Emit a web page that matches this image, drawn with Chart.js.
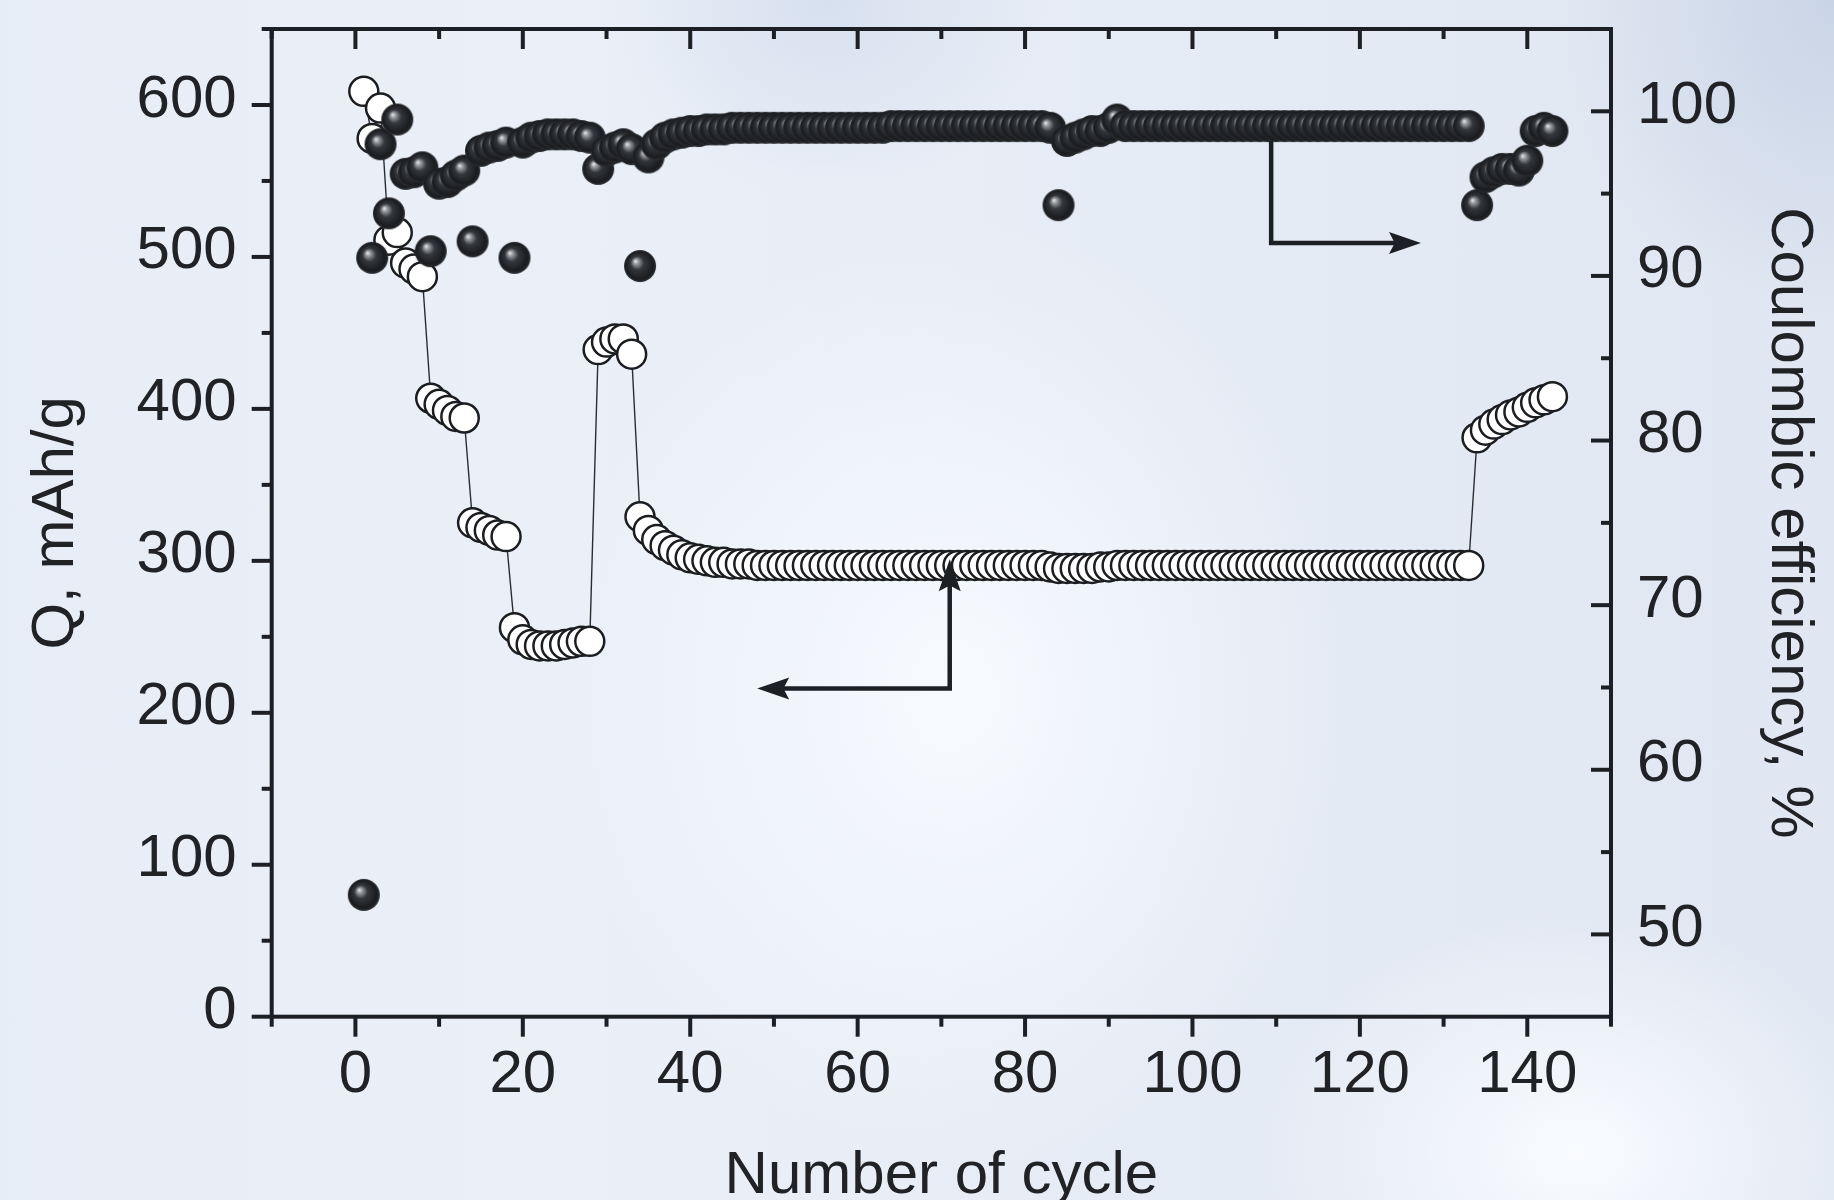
<!DOCTYPE html>
<html>
<head>
<meta charset="utf-8">
<script src="https://cdn.jsdelivr.net/npm/chart.js@4.4.1/dist/chart.umd.min.js"></script>
<style>
  html, body { margin: 0; padding: 0; }
  body {
    width: 1834px; height: 1200px; overflow: hidden;
    background:
      radial-gradient(ellipse 520px 640px at 52% 58%, rgba(248,251,255,0.95), rgba(248,251,255,0) 75%),
      radial-gradient(ellipse 420px 320px at 86% 96%, rgba(250,252,255,0.95), rgba(250,252,255,0) 75%),
      radial-gradient(ellipse 380px 440px at 100% 0%, rgba(200,211,229,0.95), rgba(200,211,229,0) 75%),
      radial-gradient(ellipse 300px 260px at 45% 0%, rgba(212,222,238,0.85), rgba(212,222,238,0) 75%),
      linear-gradient(90deg, #e7edf6 0%, #ebf0f8 30%, #e6ecf5 60%, #e0e7f2 100%);
  }
  #wrap { position: relative; width: 1834px; height: 1200px; }
</style>
</head>
<body>
<div id="wrap"><canvas id="chart"></canvas></div>
<script>
// cycle number (x)
const cycles = [
  1, 2, 3, 4, 5, 6, 7, 8, 9, 10,
  11, 12, 13, 14, 15, 16, 17, 18, 19, 20,
  21, 22, 23, 24, 25, 26, 27, 28, 29, 30,
  31, 32, 33, 34, 35, 36, 37, 38, 39, 40,
  41, 42, 43, 44, 45, 46, 47, 48, 49, 50,
  51, 52, 53, 54, 55, 56, 57, 58, 59, 60,
  61, 62, 63, 64, 65, 66, 67, 68, 69, 70,
  71, 72, 73, 74, 75, 76, 77, 78, 79, 80,
  81, 82, 83, 84, 85, 86, 87, 88, 89, 90,
  91, 92, 93, 94, 95, 96, 97, 98, 99, 100,
  101, 102, 103, 104, 105, 106, 107, 108, 109, 110,
  111, 112, 113, 114, 115, 116, 117, 118, 119, 120,
  121, 122, 123, 124, 125, 126, 127, 128, 129, 130,
  131, 132, 133, 134, 135, 136, 137, 138, 139, 140,
  141, 142, 143
];

// Q, mAh/g (open circles, left axis)
const capacity = [
  609, 578, 598, 511, 516, 496, 492, 487, 407, 403,
  399, 395, 394, 325, 322, 320, 317, 316, 256, 248,
  245, 244, 244, 244, 245, 246, 247, 247, 439, 444,
  446, 446, 436, 329, 320, 314, 310, 307, 304, 302,
  301, 300, 299, 299, 298, 298, 298, 297, 297, 297,
  297, 297, 297, 297, 297, 297, 297, 297, 297, 297,
  297, 297, 297, 297, 297, 297, 297, 297, 297, 297,
  297, 297, 297, 297, 297, 297, 297, 297, 297, 297,
  297, 297, 296, 295, 295, 295, 295, 295, 296, 296,
  297, 297, 297, 297, 297, 297, 297, 297, 297, 297,
  297, 297, 297, 297, 297, 297, 297, 297, 297, 297,
  297, 297, 297, 297, 297, 297, 297, 297, 297, 297,
  297, 297, 297, 297, 297, 297, 297, 297, 297, 297,
  297, 297, 297, 381, 386, 390, 393, 396, 398, 401,
  404, 406, 408
];

// Coulombic efficiency, % (filled spheres, right axis)
const efficiency = [
  52.4, 91.1, 98.0, 93.8, 99.5, 96.2, 96.3, 96.6, 91.5, 95.6,
  95.7, 96.1, 96.4, 92.1, 97.6, 97.8, 97.9, 98.1, 91.1, 98.1,
  98.4, 98.5, 98.6, 98.6, 98.6, 98.6, 98.5, 98.4, 96.5, 97.6,
  97.8, 98.0, 97.7, 90.6, 97.2, 98.0, 98.4, 98.6, 98.7, 98.8,
  98.8, 98.9, 98.9, 98.9, 99.0, 99.0, 99.0, 99.0, 99.0, 99.0,
  99.0, 99.0, 99.0, 99.0, 99.0, 99.0, 99.0, 99.0, 99.0, 99.0,
  99.0, 99.0, 99.0, 99.1, 99.1, 99.1, 99.1, 99.1, 99.1, 99.1,
  99.1, 99.1, 99.1, 99.1, 99.1, 99.1, 99.1, 99.1, 99.1, 99.1,
  99.1, 99.1, 99.0, 94.3, 98.2, 98.4, 98.6, 98.8, 98.8, 99.0,
  99.5, 99.1, 99.1, 99.1, 99.1, 99.1, 99.1, 99.1, 99.1, 99.1,
  99.1, 99.1, 99.1, 99.1, 99.1, 99.1, 99.1, 99.1, 99.1, 99.1,
  99.1, 99.1, 99.1, 99.1, 99.1, 99.1, 99.1, 99.1, 99.1, 99.1,
  99.1, 99.1, 99.1, 99.1, 99.1, 99.1, 99.1, 99.1, 99.1, 99.1,
  99.1, 99.1, 99.1, 94.3, 96.0, 96.3, 96.5, 96.5, 96.4, 97.0,
  98.8, 99.0, 98.8
];

// axis ticks
const xLabelTicks = [0, 20, 40, 60, 80, 100, 120, 140];
const xMinorTicks = [-10, 10, 30, 50, 70, 90, 110, 130, 150];
const qLabelTicks = [0, 100, 200, 300, 400, 500, 600];
const qMinorTicks = [50, 150, 250, 350, 450, 550, 650];
const ceLabelTicks = [50, 60, 70, 80, 90, 100];
const ceMinorTicks = [55, 65, 75, 85, 95];

// annotation arrows, in data units [cycle, value]
const qArrow = [[71, 301], [71, 216], [48, 216]];
const ceArrow = [[109.4, 98.2], [109.4, 92.0], [127.3, 92.0]];

const ink = '#1c1f24';
const fontFamily = "'Liberation Sans', Arial, Helvetica, sans-serif";
Chart.defaults.font.family = fontFamily;
Chart.defaults.color = '#202226';

function makeSphere(r) {
  const c = document.createElement('canvas');
  c.width = c.height = 2 * r + 2;
  const g = c.getContext('2d');
  const cx = r + 1, cy = r + 1;
  const grad = g.createRadialGradient(cx - r * 0.3, cy - r * 0.32, 0, cx, cy, r);
  grad.addColorStop(0, '#eeeeee');
  grad.addColorStop(0.16, '#9a9ca0');
  grad.addColorStop(0.42, '#34373c');
  grad.addColorStop(0.85, '#1a1c20');
  grad.addColorStop(1, '#2a2c30');
  g.fillStyle = grad;
  g.beginPath();
  g.arc(cx, cy, r, 0, Math.PI * 2);
  g.fill();
  return c;
}
const sphere = makeSphere(16);

function seg(ctx, x1, y1, x2, y2) {
  ctx.beginPath(); ctx.moveTo(x1, y1); ctx.lineTo(x2, y2); ctx.stroke();
}

function head(ctx, fx, fy, tx, ty) {
  const a = Math.atan2(ty - fy, tx - fx);
  const L = 32, W = 11;
  const c = Math.cos(a), s = Math.sin(a);
  ctx.beginPath();
  ctx.moveTo(tx, ty);
  ctx.lineTo(tx - L * c - W * s, ty - L * s + W * c);
  ctx.lineTo(tx - L * c * 0.82, ty - L * s * 0.82);
  ctx.lineTo(tx - L * c + W * s, ty - L * s - W * c);
  ctx.closePath();
  ctx.fill();
}

const annotate = {
  id: 'annotate',
  afterDatasetsDraw(chart) {
    const { ctx, scales: { x, y, y2 } } = chart;
    ctx.save();
    ctx.strokeStyle = ink;
    ctx.fillStyle = ink;
    ctx.lineWidth = 4.5;
    ctx.lineJoin = 'miter';
    const q = qArrow.map(p => [x.getPixelForValue(p[0]), y.getPixelForValue(p[1])]);
    ctx.beginPath();
    ctx.moveTo(q[0][0], q[0][1] + 24);
    ctx.lineTo(q[1][0], q[1][1]);
    ctx.lineTo(q[2][0] + 24, q[2][1]);
    ctx.stroke();
    head(ctx, q[1][0], q[1][1], q[0][0], q[0][1]);
    head(ctx, q[1][0], q[1][1], q[2][0], q[2][1]);

    const e = ceArrow.map(p => [x.getPixelForValue(p[0]), y2.getPixelForValue(p[1])]);
    ctx.beginPath();
    ctx.moveTo(e[0][0], e[0][1]);
    ctx.lineTo(e[1][0], e[1][1]);
    ctx.lineTo(e[2][0] - 24, e[2][1]);
    ctx.stroke();
    head(ctx, e[1][0], e[1][1], e[2][0], e[2][1]);
    ctx.restore();
  },
  afterDraw(chart) {
    const { ctx, chartArea: a, scales: { x, y, y2 } } = chart;
    ctx.save();
    ctx.strokeStyle = ink;
    ctx.lineWidth = 4;
    ctx.strokeRect(a.left, a.top, a.right - a.left, a.bottom - a.top);
    xLabelTicks.forEach(v => {
      const p = x.getPixelForValue(v);
      seg(ctx, p, a.bottom, p, a.bottom + 20);
      seg(ctx, p, a.top, p, a.top + 20);
    });
    xMinorTicks.forEach(v => {
      const p = x.getPixelForValue(v);
      seg(ctx, p, a.bottom, p, a.bottom + 10);
      seg(ctx, p, a.top, p, a.top + 10);
    });
    qLabelTicks.forEach(v => {
      const p = y.getPixelForValue(v);
      seg(ctx, a.left - 20, p, a.left, p);
    });
    qMinorTicks.forEach(v => {
      const p = y.getPixelForValue(v);
      seg(ctx, a.left - 10, p, a.left, p);
    });
    ceLabelTicks.forEach(v => {
      const p = y2.getPixelForValue(v);
      seg(ctx, a.right - 20, p, a.right, p);
    });
    ceMinorTicks.forEach(v => {
      const p = y2.getPixelForValue(v);
      seg(ctx, a.right - 10, p, a.right, p);
    });
    ctx.restore();
  }
};

const tickFont = { size: 60, family: fontFamily };
const titleFont = { size: 60, family: fontFamily };

function fixBox(s, w, h) {
  if (w !== null) s.width = w;
  if (h !== null) s.height = h;
  s.paddingTop = 0;
  s.paddingBottom = 0;
  s.paddingLeft = 0;
  s.paddingRight = 0;
}

new Chart(document.getElementById('chart'), {
  type: 'scatter',
  data: {
    datasets: [
      {
        label: 'Coulombic efficiency',
        data: cycles.map((c, i) => ({ x: c, y: efficiency[i] })),
        yAxisID: 'y2',
        showLine: false,
        pointStyle: sphere,
        pointRadius: 16,
        order: 0
      },
      {
        label: 'Q',
        data: cycles.map((c, i) => ({ x: c, y: capacity[i] })),
        yAxisID: 'y',
        showLine: true,
        borderColor: '#2a2c30',
        borderWidth: 1.4,
        pointRadius: 14.5,
        pointBorderWidth: 2.5,
        pointBorderColor: '#1b1d21',
        pointBackgroundColor: '#ffffff',
        order: 1
      }
    ]
  },
  options: {
    responsive: true,
    maintainAspectRatio: false,
    animation: false,
    events: [],
    layout: { padding: { top: 29, left: 0, right: 0, bottom: 0 } },
    plugins: { legend: { display: false }, tooltip: { enabled: false } },
    scales: {
      x: {
        type: 'linear',
        position: 'bottom',
        min: -10,
        max: 150,
        afterFit: s => fixBox(s, null, 183.3),
        afterBuildTicks: s => { s.ticks = xLabelTicks.map(v => ({ value: v })); },
        grid: { display: false, drawTicks: false },
        border: { display: false },
        ticks: { font: tickFont, padding: 23, maxRotation: 0, autoSkip: false },
        title: { display: true, text: 'Number of cycle', font: titleFont, padding: { top: 0, bottom: -12 } }
      },
      y: {
        type: 'linear',
        position: 'left',
        min: 0,
        max: 650,
        afterFit: s => fixBox(s, 271.7, null),
        afterBuildTicks: s => { s.ticks = qLabelTicks.map(v => ({ value: v })); },
        grid: { display: false, drawTicks: false },
        border: { display: false },
        ticks: { font: tickFont, padding: 35, labelOffset: -5, autoSkip: false },
        title: { display: true, text: 'Q, mAh/g', font: titleFont, padding: { top: 20, bottom: 0 } }
      },
      y2: {
        type: 'linear',
        position: 'right',
        min: 45,
        max: 105,
        afterFit: s => fixBox(s, 223, null),
        afterBuildTicks: s => { s.ticks = ceLabelTicks.map(v => ({ value: v })); },
        grid: { display: false, drawTicks: false },
        border: { display: false },
        ticks: { font: tickFont, padding: 26, labelOffset: -5, autoSkip: false },
        title: { display: true, text: 'Coulombic efficiency, %', font: titleFont, padding: { top: 9, bottom: 0 } }
      }
    }
  },
  plugins: [annotate]
});
</script>
</body>
</html>
